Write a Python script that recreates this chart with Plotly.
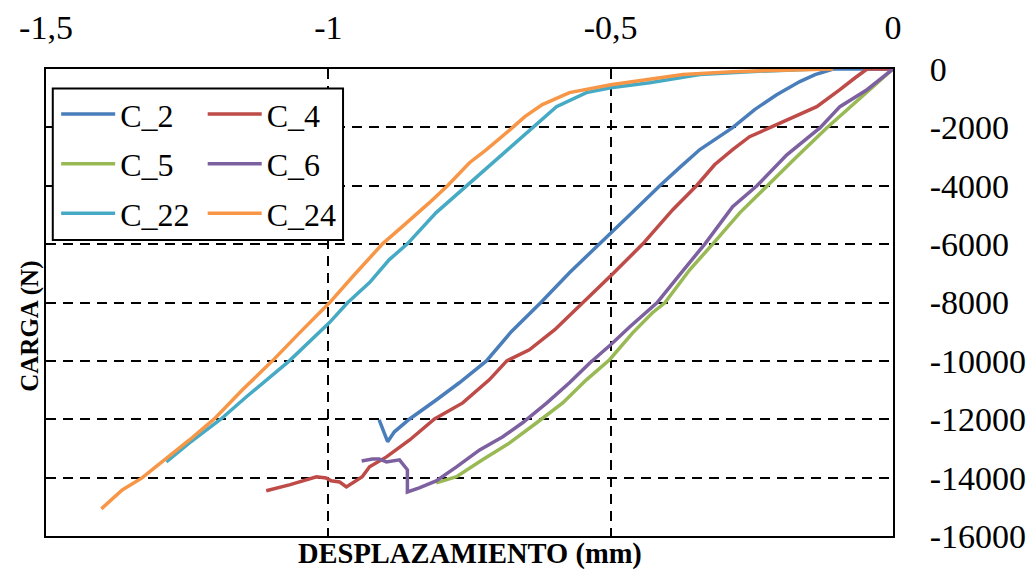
import plotly.graph_objects as go

# ---- data (displacement mm, load N) ----
c2_x = [0.0, -0.106, -0.138, -0.165, -0.206, -0.245, -0.284, -0.342, -0.378, -0.413, -0.466, -0.520,
        -0.573, -0.624, -0.676, -0.720, -0.768, -0.809, -0.856, -0.883, -0.895, -0.910]
c2_y = [0, 0, -190, -430, -880, -1390, -2010, -2760, -3380, -4000, -4990, -5990,
        -6980, -8010, -9000, -10000, -10750, -11340, -11990, -12430, -12770, -12020]

c4_x = [0.0, -0.046, -0.067, -0.094, -0.135, -0.177, -0.218, -0.254, -0.284, -0.316, -0.348, -0.390,
        -0.443, -0.498, -0.550, -0.599, -0.644, -0.684, -0.715, -0.762, -0.812, -0.856, -0.897,
        -0.927, -0.940, -0.963, -0.968, -0.980, -0.995, -1.004, -1.021, -1.069, -1.110]
c4_y = [0, 0, -300, -710, -1290, -1670, -2010, -2320, -2760, -3280, -4000, -4820,
        -5990, -7050, -8010, -8930, -9620, -10000, -10650, -11440, -11990, -12710, -13290,
        -13630, -13970, -14250, -14320, -14150, -14110, -14010, -13970, -14250, -14450]

c5_x = [0.0, -0.041, -0.082, -0.117, -0.170, -0.223, -0.271, -0.319, -0.360, -0.404, -0.426, -0.461,
        -0.502, -0.543, -0.585, -0.631, -0.679, -0.727, -0.773, -0.809]
c5_y = [0, -710, -1390, -2010, -3000, -4000, -4920, -5990, -6880, -8010, -8350, -9040,
        -9960, -10650, -11440, -12120, -12810, -13390, -13970, -14180]

c6_x = [0.0, -0.046, -0.094, -0.129, -0.188, -0.241, -0.284, -0.333, -0.378, -0.418, -0.466, -0.500,
        -0.537, -0.573, -0.613, -0.656, -0.691, -0.732, -0.773, -0.809, -0.839, -0.860, -0.860,
        -0.869, -0.874, -0.897, -0.910, -0.922, -0.941]
c6_y = [0, -710, -1290, -2010, -2940, -4000, -4720, -5990, -7050, -8010, -8830, -9450,
        -10070, -10750, -11440, -12120, -12600, -13050, -13630, -14110, -14350, -14490, -13730,
        -13490, -13390, -13460, -13360, -13360, -13430]

c22_x = [-0.135, -0.254, -0.342, -0.431, -0.500, -0.543, -0.596, -0.638, -0.661, -0.691, -0.727, -0.755,
         -0.809, -0.860, -0.892, -0.927, -0.966, -0.998, -1.069, -1.145, -1.190, -1.246, -1.287]
c22_y = [0, -90, -190, -470, -640, -810, -1290, -2010, -2420, -2900, -3550, -4000,
         -4920, -5990, -6530, -7320, -8010, -8690, -10000, -11230, -11990, -12810, -13460]

c24_x = [-0.106, -0.284, -0.372, -0.431, -0.500, -0.573, -0.621, -0.652, -0.674, -0.720, -0.750, -0.789,
         -0.821, -0.865, -0.904, -0.954, -0.998, -1.051, -1.099, -1.152, -1.202, -1.246, -1.305,
         -1.330, -1.365, -1.402]
c24_y = [0, -90, -190, -360, -540, -810, -1220, -1630, -2010, -2760, -3210, -4000,
         -4580, -5330, -5990, -7050, -8010, -9040, -10000, -10990, -11990, -12710, -13630,
         -14010, -14420, -15070]

names = ["C_2", "C_4", "C_5", "C_6", "C_22", "C_24"]
xs = [c2_x, c4_x, c5_x, c6_x, c22_x, c24_x]
ys = [c2_y, c4_y, c5_y, c6_y, c22_y, c24_y]
colors = ["#4A7EBB", "#BE4B48", "#98B954", "#7D60A0", "#46AAC5", "#F79646"]
legend_ids = ["legend", "legend2", "legend", "legend2", "legend", "legend2"]

x_tickvals = [-1.5, -1, -0.5, 0]
x_ticktext = ["-1,5", "-1", "-0,5", "0"]
y_tickvals = [0, -2000, -4000, -6000, -8000, -10000, -12000, -14000, -16000]
y_ticktext = ["0", "-2000", "-4000", "-6000", "-8000", "-10000", "-12000", "-14000", "-16000"]

FONT = "Liberation Serif"

fig = go.Figure()
for n, x, y, c, lg in zip(names, xs, ys, colors, legend_ids):
    fig.add_trace(go.Scatter(x=x, y=y, mode="lines", name=n, legend=lg, legendgroup=n,
                             line=dict(color=c, width=3.5)))

legend_common = dict(
    bgcolor="rgba(0,0,0,0)", borderwidth=0, font=dict(family=FONT, size=32, color="black"),
    itemwidth=54, traceorder="grouped", tracegroupgap=5, xanchor="left", yanchor="top",
    orientation="v",
)

fig.update_layout(
    width=1034, height=571,
    margin=dict(l=46, r=141, t=69, b=35, autoexpand=False),
    paper_bgcolor="white", plot_bgcolor="white",
    font=dict(family=FONT, color="black"),
    showlegend=True,
    legend=dict(x=0.012, y=0.962, **legend_common),
    legend2=dict(x=0.185, y=0.962, **legend_common),
    xaxis=dict(
        side="top", range=[-1.5, 0], tickvals=x_tickvals, ticktext=x_ticktext,
        tickfont=dict(family=FONT, size=34, color="black"),
        showline=True, linecolor="black", linewidth=2, mirror=True,
        showgrid=True, gridcolor="black", gridwidth=2, griddash="10px,7px",
        ticks="inside", ticklen=6, tickcolor="black", ticklabelstandoff=14,
        zeroline=False, automargin=False,
    ),
    yaxis=dict(
        side="right", range=[-16000, 0], tickvals=y_tickvals, ticktext=y_ticktext,
        tickfont=dict(family=FONT, size=34, color="black"),
        showline=True, linecolor="black", linewidth=2, mirror=True,
        showgrid=True, gridcolor="black", gridwidth=2, griddash="10px,7px",
        ticks="", ticklabelstandoff=28,
        zeroline=False, automargin=False,
    ),
    shapes=[dict(type="rect", xref="paper", yref="paper", x0=0.008, x1=0.3507, y0=0.634, y1=0.958,
                 fillcolor="white", line=dict(color="black", width=2), layer="above")],
    annotations=[
        dict(text="<b>DESPLAZAMIENTO (mm)</b>", xref="paper", yref="paper", x=0.5, y=-0.038,
             xanchor="center", yanchor="middle", showarrow=False,
             font=dict(family=FONT, size=28.5, color="black")),
        dict(text="<b>CARGA (N)</b>", xref="paper", yref="paper", x=-0.019, y=0.45,
             xanchor="center", yanchor="middle", showarrow=False, textangle=-90,
             font=dict(family=FONT, size=25, color="black")),
    ],
)

fig.write_html("out.html")
